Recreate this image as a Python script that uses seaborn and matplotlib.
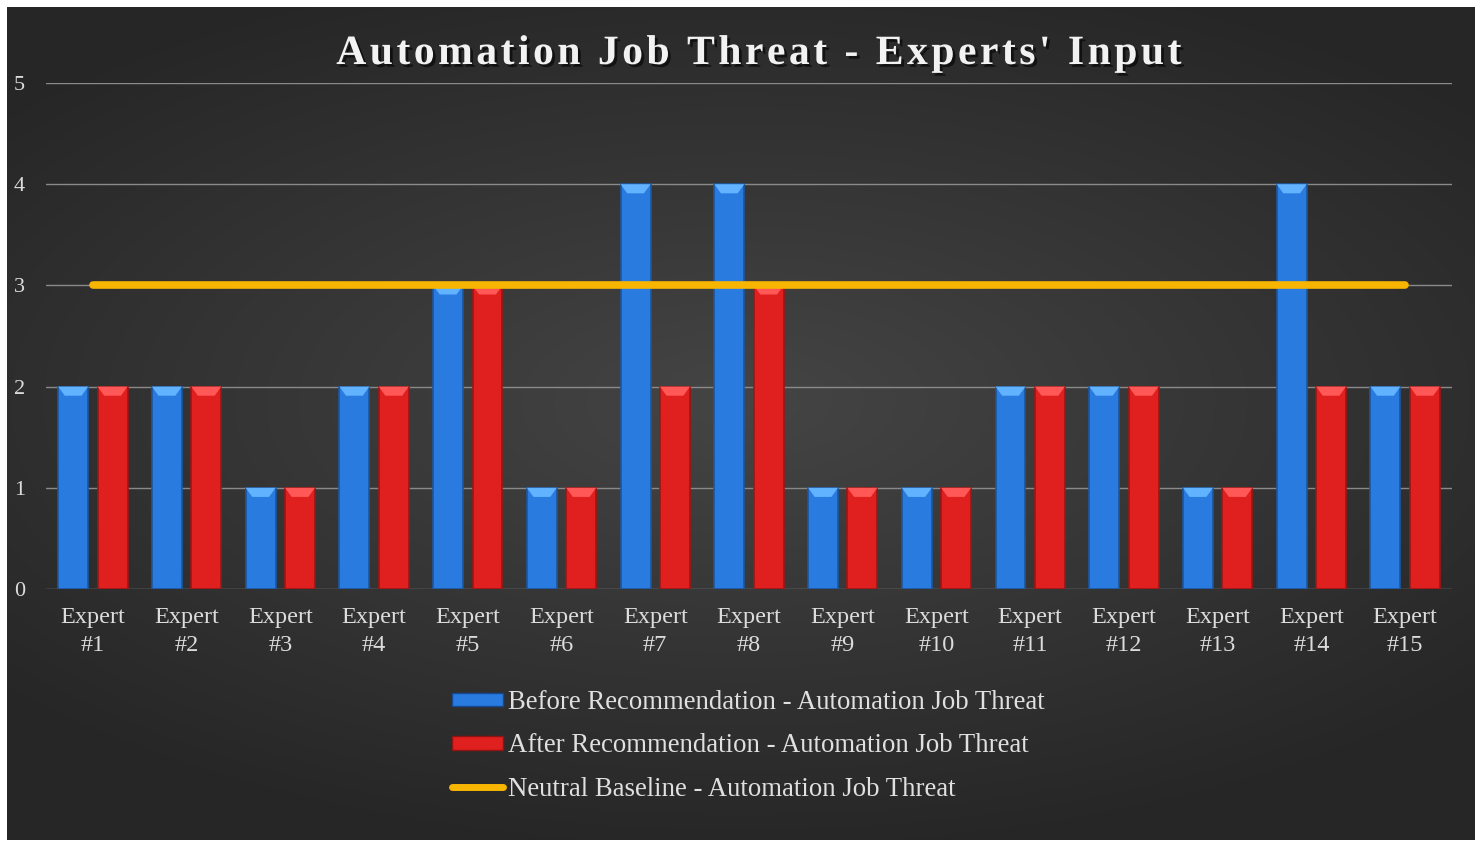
import numpy as np
import pandas as pd
import matplotlib
matplotlib.use("Agg")
import matplotlib.pyplot as plt
import matplotlib.patheffects as pe
from matplotlib.patches import Patch, Polygon
from matplotlib.lines import Line2D
import seaborn as sns

experts = [f"Expert\n#{i}" for i in range(1, 16)]
before = [2, 2, 1, 2, 3, 1, 4, 4, 1, 1, 2, 2, 1, 4, 2]
after = [2, 2, 1, 2, 3, 1, 2, 3, 1, 1, 2, 2, 1, 2, 2]
baseline = [3] * 15
series_names = ["Before Recommendation - Automation Job Threat",
                "After Recommendation - Automation Job Threat",
                "Neutral Baseline - Automation Job Threat"]
title = "Automation Job Threat - Experts' Input"

blue = "#2a7be0"
red = "#e0201f"
gold = "#f7b500"

df = pd.DataFrame({
    "expert": experts * 2,
    "score": before + after,
    "phase": [series_names[0]] * 15 + [series_names[1]] * 15,
})

sns.set_theme(style="dark")
plt.rcParams["font.family"] = ["Liberation Serif", "DejaVu Serif"]

fig = plt.figure(figsize=(14.82, 8.44), dpi=100, facecolor="white")

# dark radial-gradient backdrop
bg = fig.add_axes([7 / 1482, 4 / 844, 1468 / 1482, 833 / 844])
yy, xx = np.mgrid[-1:1:300j, -1:1:500j]
r = np.sqrt((xx * 0.9) ** 2 + ((yy + 0.05) * 1.1) ** 2)
shade = np.clip(0.27 - 0.10 * r, 0.15, 0.27)
bg.imshow(np.dstack([shade] * 3), aspect="auto", extent=[0, 1, 0, 1], interpolation="bicubic")
bg.set_axis_off()

ax = fig.add_axes([46 / 1482, 1 - 589 / 844, 1406 / 1482, 506 / 844])
ax.set_facecolor("none")

sns.barplot(data=df, x="expert", y="score", hue="phase", palette=[blue, red],
            width=0.84, gap=0.24, saturation=1, ax=ax, legend=False, zorder=3)

# bevel highlight on each bar top
for p in ax.patches:
    x0, w = p.get_x(), p.get_width()
    top = p.get_y() + p.get_height()
    fc = p.get_facecolor()
    light = tuple(min(1, c + 0.22) for c in fc[:3])
    dark = tuple(c * 0.7 for c in fc[:3])
    p.set_edgecolor(dark)
    p.set_linewidth(1.2)
    ax.add_patch(Polygon([(x0, top), (x0 + w, top), (x0 + 0.78 * w, top - 0.09),
                          (x0 + 0.22 * w, top - 0.09)], closed=True,
                         facecolor=light, edgecolor="none", zorder=4))

sns.lineplot(x=np.arange(15), y=baseline, color=gold, linewidth=5.5, ax=ax,
             zorder=5, solid_capstyle="round")

ax.set_xlim(-0.5, 14.5)
ax.set_ylim(0, 5)
ax.set_yticks(range(6))
ax.grid(axis="y", color="#8a8a8a", linewidth=1.0)
ax.grid(axis="x", visible=False)
ax.set_axisbelow(True)
for s in ax.spines.values():
    s.set_visible(False)
ax.set_xlabel("")
ax.set_ylabel("")
ax.tick_params(axis="x", colors="#dcdcdc", labelsize=17.5, length=0, pad=13)
ax.tick_params(axis="y", colors="#dcdcdc", labelsize=16, length=0, pad=15)
for lbl in ax.get_xticklabels():
    lbl.set_linespacing(1.45)

hair = "\u200a"
spaced = hair.join(title)
fig.text(0.512, 1 - 54 / 844, spaced, ha="center", va="center", fontsize=30,
         fontweight="bold", color="#f2f2f2",
         path_effects=[pe.withSimplePatchShadow(offset=(2, -2), shadow_rgbFace="black", alpha=0.6)])

handles = [Patch(facecolor=blue, edgecolor="#154a92"),
           Patch(facecolor=red, edgecolor="#8e1414"),
           Line2D([0], [0], color=gold, linewidth=5, solid_capstyle="round")]
leg = fig.legend(handles, series_names, loc="upper center", bbox_to_anchor=(0.505, 1 - 666 / 844),
                 frameon=False, fontsize=19.3, labelcolor="#e0e0e0", handlelength=1.9,
                 handleheight=0.4, handletextpad=0.2, labelspacing=0.68)

fig.savefig("out.png", dpi=100, facecolor="white")
